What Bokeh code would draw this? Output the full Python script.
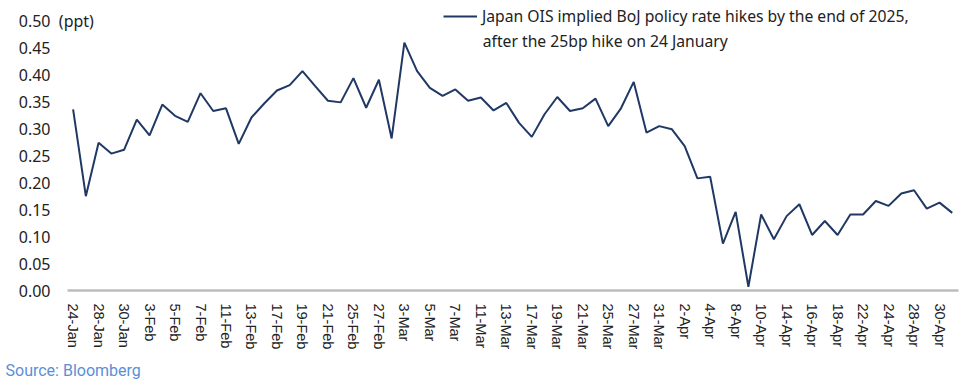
from bokeh.plotting import figure
from bokeh.models import (FixedTicker, Legend, LegendItem, Label, Title,
                          ColumnDataSource, Range1d, NumeralTickFormatter)
from bokeh.embed import file_html
from bokeh.resources import INLINE

# ---- data ----
dates = [
    "24-Jan", "27-Jan", "28-Jan", "29-Jan", "30-Jan", "31-Jan",
    "3-Feb", "4-Feb", "5-Feb", "6-Feb", "7-Feb", "10-Feb", "11-Feb", "12-Feb",
    "13-Feb", "14-Feb", "17-Feb", "18-Feb", "19-Feb", "20-Feb", "21-Feb",
    "24-Feb", "25-Feb", "26-Feb", "27-Feb", "28-Feb",
    "3-Mar", "4-Mar", "5-Mar", "6-Mar", "7-Mar", "10-Mar", "11-Mar", "12-Mar",
    "13-Mar", "14-Mar", "17-Mar", "18-Mar", "19-Mar", "20-Mar", "21-Mar",
    "24-Mar", "25-Mar", "26-Mar", "27-Mar", "28-Mar", "31-Mar",
    "1-Apr", "2-Apr", "3-Apr", "4-Apr", "7-Apr", "8-Apr", "9-Apr", "10-Apr",
    "11-Apr", "14-Apr", "15-Apr", "16-Apr", "17-Apr", "18-Apr", "21-Apr",
    "22-Apr", "23-Apr", "24-Apr", "25-Apr", "28-Apr", "29-Apr", "30-Apr",
    "1-May",
]
hikes_ppt = [
    0.336, 0.175, 0.274, 0.254, 0.261, 0.317, 0.288, 0.345, 0.324, 0.313,
    0.366, 0.333, 0.338, 0.272, 0.321, 0.347, 0.371, 0.381, 0.407, 0.379,
    0.352, 0.349, 0.394, 0.339, 0.391, 0.282, 0.460, 0.407, 0.376, 0.361,
    0.373, 0.352, 0.358, 0.334, 0.348, 0.311, 0.285, 0.327, 0.359, 0.333,
    0.338, 0.356, 0.305, 0.338, 0.387, 0.293, 0.305, 0.299, 0.268, 0.208,
    0.211, 0.087, 0.146, 0.007, 0.141, 0.095, 0.138, 0.160, 0.103, 0.129,
    0.103, 0.141, 0.141, 0.166, 0.157, 0.180, 0.186, 0.152, 0.163, 0.144,
]
y_ticks = [0.0, 0.05, 0.10, 0.15, 0.20, 0.25, 0.30, 0.35, 0.40, 0.45, 0.50]
legend_line1 = "Japan OIS implied BoJ policy rate hikes by the end of 2025,"
legend_line2 = "after the 25bp hike on 24 January"
source_text = "Source: Bloomberg"
unit_text = "(ppt)"

idx = list(range(len(dates)))
src = ColumnDataSource(dict(x=idx, y=hikes_ppt, d=dates))

LINE = "#203864"
TXT = "#222222"
X0, X1 = -0.44, 69.49   # extent of the category axis line

p = figure(frame_width=903, frame_height=290,
           min_border_left=55, min_border_right=10, min_border_top=0,
           min_border_bottom=0,
           x_range=Range1d(-1.3815, X1), y_range=Range1d(0, 0.538),
           output_backend="svg", toolbar_location=None,
           background_fill_color="white", border_fill_color="white")
p.outline_line_color = None
p.xgrid.visible = False
p.ygrid.visible = False

r = p.line("x", "y", source=src, line_color=LINE, line_width=2)

# x axis
xa = p.xaxis[0]
xa.bounds = (X0, X1)
xa.ticker = FixedTicker(ticks=idx[::2])
xa.major_label_overrides = {i: dates[i] for i in idx[::2]}
xa.major_label_orientation = "vertical"
xa.major_tick_line_color = None
xa.minor_tick_line_color = None
xa.major_tick_out = 0
xa.major_tick_in = 0
xa.minor_tick_out = 0
xa.axis_line_color = "#bdbdbd"
xa.axis_line_width = 2.5
xa.major_label_standoff = 13
xa.major_label_text_font = "Liberation Sans"
xa.major_label_text_font_size = "14.5px"
xa.major_label_text_color = TXT

# y axis
ya = p.yaxis[0]
ya.ticker = FixedTicker(ticks=y_ticks)
ya.formatter = NumeralTickFormatter(format="0.00")
ya.axis_line_color = None
ya.major_tick_line_color = None
ya.minor_tick_line_color = None
ya.major_tick_out = 0
ya.major_tick_in = 0
ya.minor_tick_out = 0
ya.major_label_standoff = 5
ya.major_label_text_font = "Noto Sans"
ya.major_label_text_font_size = "16px"
ya.major_label_text_color = TXT

p.add_layout(Label(x=-1.12, y=0.5, text=unit_text, text_baseline="middle",
                   text_font="Noto Sans", text_font_size="16px",
                   text_color=TXT))

legend = Legend(items=[LegendItem(label=legend_line1, renderers=[r])],
                location=(388, 263), glyph_width=34, glyph_height=20,
                label_standoff=5, padding=0, margin=0, spacing=0,
                border_line_color=None, background_fill_alpha=0,
                label_text_font="Noto Sans", label_text_font_size="15.7px",
                label_text_color=TXT)
p.add_layout(legend)
p.add_layout(Label(x=32.15, y=0.4629, text=legend_line2, text_baseline="middle",
                   text_font="Noto Sans", text_font_size="15.7px",
                   text_color=TXT))

p.add_layout(Title(text=source_text, align="left", offset=-50, standoff=13,
                   text_font="Roboto", text_font_size="16px",
                   text_font_style="normal", text_color="#5b8fd6"), "below")

open("out.html", "w").write(file_html(p, INLINE))
